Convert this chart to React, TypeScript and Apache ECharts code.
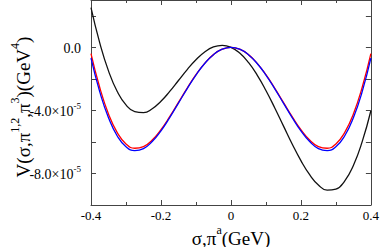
import React, { useEffect, useRef } from 'react';
import * as echarts from 'echarts';

const xValues = [
  -0.4, -0.375, -0.35, -0.325, -0.3, -0.275, -0.25, -0.225, -0.2, -0.175, -0.15, -0.125, -0.1, -0.075, -0.05, -0.025,
  0, 0.025, 0.05, 0.075, 0.1, 0.125, 0.15, 0.175, 0.2, 0.225, 0.25, 0.275, 0.3, 0.325, 0.35, 0.375, 0.4,
];

const blackValues = [
  25.17e-6, 2.85e-6, -14.95e-6, -28.04e-6, -36.53e-6, -40.8e-6, -41.39e-6, -38.93e-6, -34.21e-6, -27.99e-6, -21.04e-6,
  -14.12e-6, -7.89e-6, -2.97e-6, 0.21e-6, 1.26e-6, 0, -3.65e-6, -9.6e-6, -17.62e-6, -27.35e-6, -38.29e-6, -49.83e-6,
  -61.28e-6, -71.87e-6, -80.81e-6, -87.3e-6, -90.57e-6, -89.93e-6, -84.83e-6, -74.9e-6, -59.97e-6, -40.23e-6,
];

const redValues = [
  -4.0e-6, -25.47e-6, -42.23e-6, -54.11e-6, -61.25e-6, -64.02e-6, -62.97e-6, -58.76e-6, -52.16e-6, -43.96e-6, -34.94e-6,
  -25.86e-6, -17.4e-6, -10.17e-6, -4.64e-6, -1.18e-6, 0, -1.18e-6, -4.64e-6, -10.17e-6, -17.4e-6, -25.86e-6, -34.94e-6,
  -43.96e-6, -52.16e-6, -58.76e-6, -62.97e-6, -64.02e-6, -61.25e-6, -54.11e-6, -42.23e-6, -25.47e-6, -4.0e-6,
];

const blueValues = [
  -6.9e-6, -28.28e-6, -44.68e-6, -56.22e-6, -63.05e-6, -65.53e-6, -64.22e-6, -59.77e-6, -52.96e-6, -44.57e-6, -35.39e-6,
  -26.17e-6, -17.6e-6, -10.28e-6, -4.69e-6, -1.19e-6, 0, -1.19e-6, -4.69e-6, -10.28e-6, -17.6e-6, -26.17e-6, -35.39e-6,
  -44.57e-6, -52.96e-6, -59.77e-6, -64.22e-6, -65.53e-6, -63.05e-6, -56.22e-6, -44.68e-6, -28.28e-6, -6.9e-6,
];

const xTickValues = [-0.4, -0.2, 0, 0.2, 0.4];
const xTickLabels = ['-0.4', '-0.2', '0', '0.2', '0.4'];
const yTickValues = [0, -4e-5, -8e-5];
const yTickLabels = ['{m|0.0}', '{m|-4.0×10}{s|-5}', '{m|-8.0×10}{s|-5}'];

const FONT = 'Liberation Serif';
const AXIS_COLOR = '#444';

function pairs(values: number[]) {
  return xValues.map((x, i) => [x, values[i]]);
}

function baseX(position: 'bottom' | 'top', showLabels: boolean) {
  return {
    type: 'value',
    position,
    min: -0.4,
    max: 0.4,
    interval: 0.2,
    axisLine: { show: true, onZero: false, lineStyle: { color: AXIS_COLOR, width: 1 } },
    axisTick: { show: true, inside: true, length: 5, lineStyle: { color: AXIS_COLOR } },
    minorTick: { show: true, splitNumber: 2, length: 3, lineStyle: { color: AXIS_COLOR } },
    splitLine: { show: false },
    minorSplitLine: { show: false },
    axisLabel: {
      show: showLabels,
      margin: 4,
      color: '#000',
      fontFamily: FONT,
      fontSize: 13,
      formatter: (v: number) => {
        const i = xTickValues.findIndex((t) => Math.abs(t - v) < 1e-9);
        return i >= 0 ? xTickLabels[i] : '';
      },
    },
  };
}

function baseY(position: 'left' | 'right', showLabels: boolean) {
  return {
    type: 'value',
    position,
    min: -1e-4,
    max: 3e-5,
    interval: 2e-5,
    axisLine: { show: true, onZero: false, lineStyle: { color: AXIS_COLOR, width: 1 } },
    axisTick: { show: true, inside: true, length: 5, lineStyle: { color: AXIS_COLOR } },
    splitLine: { show: false },
    axisLabel: {
      show: showLabels,
      margin: 10,
      color: '#000',
      fontFamily: FONT,
      formatter: (v: number) => {
        const i = yTickValues.findIndex((t) => Math.abs(t - v) < 1e-10);
        return i >= 0 ? yTickLabels[i] : '';
      },
      rich: {
        m: { fontFamily: FONT, fontSize: 14, lineHeight: 17, verticalAlign: 'bottom', color: '#000' },
        s: { fontFamily: FONT, fontSize: 9, lineHeight: 9, verticalAlign: 'top', color: '#000' },
      },
    },
  };
}

const titleRich = {
  m: { fontFamily: FONT, fontSize: 19, lineHeight: 24, verticalAlign: 'bottom', fill: '#000', color: '#000' },
  s: { fontFamily: FONT, fontSize: 12, lineHeight: 12, verticalAlign: 'top', fill: '#000', color: '#000' },
};

export default function App() {
  const ref = useRef<HTMLDivElement>(null);

  useEffect(() => {
    document.body.style.margin = '0';
    if (!ref.current) return;
    const chart = echarts.init(ref.current, undefined, { renderer: 'svg' });
    chart.setOption({
      animation: false,
      backgroundColor: '#fff',
      grid: { left: 91, right: 10, top: 0, bottom: 42 },
      xAxis: [baseX('bottom', true), baseX('top', false)],
      yAxis: [baseY('left', true), baseY('right', false)],
      series: [
        {
          type: 'line',
          data: pairs(blackValues),
          smooth: true,
          showSymbol: false,
          lineStyle: { color: '#111', width: 1.3 },
        },
        {
          type: 'line',
          data: pairs(redValues),
          smooth: true,
          showSymbol: false,
          lineStyle: { color: '#ff0000', width: 1.3 },
        },
        {
          type: 'line',
          data: pairs(blueValues),
          smooth: true,
          showSymbol: false,
          lineStyle: { color: '#0000ff', width: 1.3 },
        },
      ],
      graphic: [
        {
          type: 'text',
          x: 20.5,
          y: 107,
          rotation: Math.PI / 2,
          style: {
            text: '{m|V(σ,π}{s|1,2}{m|,π}{s|3}{m|)(GeV}{s|4}{m|)}',
            rich: titleRich,
            align: 'center',
            verticalAlign: 'middle',
            fill: '#000',
          },
        },
        {
          type: 'text',
          x: 231,
          y: 235.5,
          style: {
            text: '{m|σ,π}{s|a}{m|(GeV)}',
            rich: titleRich,
            align: 'center',
            verticalAlign: 'middle',
            fill: '#000',
          },
        },
      ],
    });
    return () => chart.dispose();
  }, []);

  return <div ref={ref} style={{ width: 382, height: 247 }} />;
}
